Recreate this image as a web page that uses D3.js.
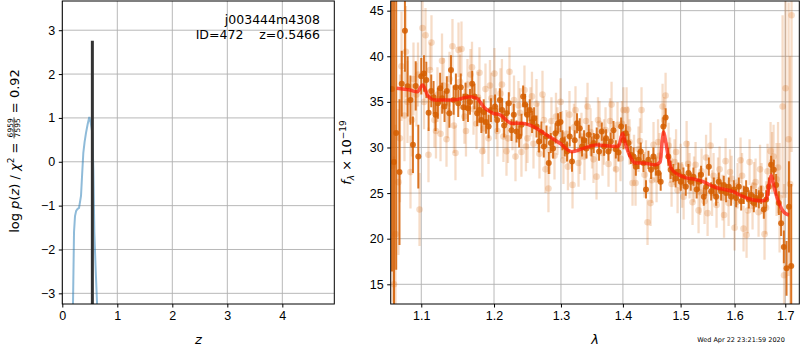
<!DOCTYPE html>
<html>
<head>
<meta charset="utf-8">
<script src="https://cdn.jsdelivr.net/npm/d3@7"></script>
<style>
  body { margin: 0; background: #fff; }
  svg { font-family: "DejaVu Sans", sans-serif; }
  .tick text { font-size: 12.5px; fill: #000; }
  .tick line { stroke: #000; }
</style>
</head>
<body>
<script>
// ---- left panel: log p(z)
const zGrid = [0.17, 0.195, 0.213, 0.231, 0.252, 0.273, 0.304, 0.34, 0.36, 0.382, 0.405, 0.431, 0.46, 0.491, 0.515, 0.545, 0.565, 0.582, 0.605, 0.631, 0.66];
const logPz = [-5.0, -3.2, -1.6, -1.24, -1.12, -1.08, -1.05, -0.78, -0.3, 0.2, 0.45, 0.66, 0.85, 1.02, 0.9, 0.67, -0.2, -1.6, -2.4, -3.2, -5.0];
const zBest = 0.5466;
const zBestTop = 2.76;
const zTicks = [0, 1, 2, 3, 4];
const logTicks = [-3, -2, -1, 0, 1, 2, 3];

// ---- right panel: spectrum
const modelWave = [1.0681, 1.0852, 1.0948, 1.1018, 1.1092, 1.1182, 1.1429, 1.1660, 1.1753, 1.1871, 1.1989, 1.2086, 1.2256, 1.2403, 1.2577, 1.2780, 1.2984, 1.3167, 1.3351, 1.3567, 1.3896, 1.3929, 1.3996, 1.4039, 1.4123, 1.4208, 1.4345, 1.4547, 1.4639, 1.4669, 1.4699, 1.4739, 1.4787, 1.4845, 1.4965, 1.5084, 1.5229, 1.5412, 1.5598, 1.5975, 1.6167, 1.6362, 1.6558, 1.6626, 1.6672, 1.6718, 1.6772, 1.6873, 1.6974, 1.7075];
const modelFlux = [36.5, 36.3, 36.1, 36.85, 35.6, 35.2, 35.2, 35.57, 35.4, 34.3, 33.75, 33.57, 32.65, 32.65, 32.28, 31.37, 30.46, 29.54, 29.9, 30.27, 30.1, 30.2, 31.55, 30.5, 29.0, 28.3, 28.3, 28.1, 28.4, 30.4, 31.7, 30.5, 28.7, 27.6, 27.0, 26.7, 26.55, 26.25, 25.7, 25.15, 24.6, 24.24, 24.15, 24.4, 25.9, 26.95, 25.7, 23.9, 22.9, 22.6];

const darkWave = [1.0621, 1.0647, 1.0675, 1.0717, 1.0746, 1.0787, 1.0822, 1.0858, 1.0891, 1.0927, 1.0961, 1.1000, 1.1035, 1.1066, 1.1097, 1.1132, 1.1163, 1.1189, 1.1221, 1.1251, 1.1278, 1.1310, 1.1341, 1.1376, 1.1398, 1.1434, 1.1465, 1.1497, 1.1532, 1.1569, 1.1599, 1.1632, 1.1660, 1.1691, 1.1723, 1.1760, 1.1792, 1.1820, 1.1853, 1.1886, 1.1923, 1.1956, 1.2014, 1.2045, 1.2084, 1.2117, 1.2146, 1.2181, 1.2214, 1.2254, 1.2287, 1.2327, 1.2366, 1.2401, 1.2425, 1.2455, 1.2485, 1.2524, 1.2559, 1.2589, 1.2625, 1.2664, 1.2700, 1.2736, 1.2777, 1.2812, 1.2843, 1.2878, 1.2915, 1.2955, 1.2993, 1.3023, 1.3059, 1.3095, 1.3137, 1.3173, 1.3216, 1.3252, 1.3295, 1.3332, 1.3364, 1.3402, 1.3439, 1.3483, 1.3520, 1.3568, 1.3606, 1.3650, 1.3688, 1.3721, 1.3760, 1.3798, 1.3843, 1.3882, 1.3926, 1.3970, 1.4010, 1.4049, 1.4094, 1.4133, 1.4179, 1.4218, 1.4264, 1.4302, 1.4348, 1.4392, 1.4434, 1.4479, 1.4520, 1.4560, 1.4607, 1.4647, 1.4694, 1.4734, 1.4781, 1.4822, 1.4870, 1.4911, 1.4959, 1.5003, 1.5051, 1.5093, 1.5141, 1.5183, 1.5232, 1.5291, 1.5330, 1.5372, 1.5422, 1.5465, 1.5515, 1.5558, 1.5608, 1.5651, 1.5701, 1.5745, 1.5795, 1.5839, 1.5890, 1.5934, 1.5986, 1.6030, 1.6082, 1.6127, 1.6178, 1.6223, 1.6275, 1.6321, 1.6373, 1.6418, 1.6471, 1.6517, 1.6570, 1.6616, 1.6669, 1.6715, 1.6769, 1.6815, 1.6870, 1.6916, 1.6971, 1.7026, 1.7075, 1.7122];
const darkFlux = [36.4, 28.4, 31.6, 27.3, 37.0, 42.8, 36.7, 35.2, 30.3, 36.75, 29.0, 37.8, 38.1, 37.4, 33.8, 36.2, 35.5, 33.6, 34.85, 36.5, 35.4, 34.5, 36.2, 33.75, 38.5, 35.2, 36.6, 34.85, 36.6, 34.4, 35.6, 34.3, 35.0, 37.0, 35.6, 33.75, 34.1, 33.0, 33.9, 32.8, 32.3, 34.1, 34.5, 33.0, 35.2, 34.1, 32.4, 33.75, 34.85, 31.9, 33.6, 31.75, 31.2, 32.5, 35.6, 34.7, 33.6, 34.1, 32.8, 33.2, 32.3, 30.65, 31.65, 30.1, 31.2, 28.3, 30.5, 29.9, 31.55, 32.65, 32.8, 30.8, 30.1, 29.55, 31.2, 28.45, 30.8, 32.65, 32.1, 30.1, 30.8, 29.9, 31.4, 30.1, 30.5, 31.2, 29.55, 31.75, 30.1, 31.0, 29.55, 30.65, 31.9, 29.8, 29.45, 32.3, 30.8, 31.55, 30.5, 29.2, 29.0, 27.9, 28.65, 29.55, 28.3, 25.4, 28.65, 27.55, 29.0, 27.9, 27.2, 26.25, 32.3, 33.3, 29.0, 27.55, 27.2, 26.6, 27.35, 26.25, 26.8, 25.7, 27.2, 26.25, 26.8, 25.4, 26.25, 27.0, 24.6, 25.7, 27.9, 25.2, 25.7, 24.6, 26.25, 25.2, 25.9, 25.0, 25.7, 24.6, 25.4, 24.45, 25.7, 24.1, 24.8, 25.4, 24.3, 24.8, 23.9, 24.45, 24.3, 24.8, 23.2, 24.3, 25.7, 28.1, 27.55, 25.9, 23.9, 21.7, 19.1, 16.75, 23.5, 17.0];
const darkErr = [20, 20, 15, 8, 3.6, 4.5, 3.3, 2.7, 3.1, 2.7, 3.5, 2.0, 2.0, 2.0, 2.0, 1.8, 1.8, 1.8, 1.7, 1.7, 1.7, 1.7, 1.6, 1.6, 1.6, 1.6, 1.5, 1.5, 1.5, 1.5, 1.5, 1.5, 1.4, 1.4, 1.4, 1.4, 1.4, 1.4, 1.4, 1.3, 1.3, 1.3, 1.3, 1.3, 1.3, 1.3, 1.3, 1.3, 1.2, 1.2, 1.2, 1.2, 1.2, 1.2, 1.2, 1.2, 1.2, 1.2, 1.2, 1.2, 1.2, 1.2, 1.2, 1.2, 1.2, 1.2, 1.1, 1.1, 1.1, 1.1, 1.1, 1.1, 1.1, 1.1, 1.1, 1.1, 1.1, 1.1, 1.1, 1.1, 1.1, 1.1, 1.1, 1.1, 1.1, 1.0, 1.0, 1.0, 1.0, 1.0, 1.0, 1.0, 1.0, 1.0, 1.0, 1.0, 1.0, 1.0, 1.0, 1.0, 1.0, 1.0, 1.0, 1.0, 1.0, 1.0, 1.0, 1.0, 1.0, 1.0, 1.0, 1.0, 1.0, 1.0, 1.0, 1.0, 1.0, 1.0, 1.0, 1.0, 1.0, 1.0, 1.0, 1.0, 1.0, 1.0, 1.0, 1.0, 1.0, 1.0, 1.0, 1.0, 1.0, 1.0, 1.0, 1.0, 1.0, 1.0, 1.0, 1.0, 1.0, 1.0, 1.0, 1.0, 1.0, 1.0, 1.0, 1.0, 1.0, 1.0, 1.0, 1.0, 1.0, 1.0, 1.0, 1.0, 1.1, 1.2, 1.3, 1.4, 1.8, 3.0, 5.0, 9.0, 9.5, 8.0];

const lightWave = [1.0628, 1.0666, 1.0704, 1.0743, 1.0781, 1.0820, 1.0859, 1.0898, 1.0937, 1.0977, 1.1016, 1.1056, 1.1095, 1.1135, 1.1175, 1.1215, 1.1256, 1.1296, 1.1337, 1.1378, 1.1418, 1.1459, 1.1501, 1.1542, 1.1583, 1.1625, 1.1667, 1.1709, 1.1751, 1.1793, 1.1835, 1.1878, 1.1921, 1.1963, 1.2006, 1.2049, 1.2093, 1.2136, 1.2180, 1.2224, 1.2268, 1.2312, 1.2356, 1.2400, 1.2445, 1.2490, 1.2535, 1.2580, 1.2625, 1.2670, 1.2716, 1.2762, 1.2807, 1.2853, 1.2900, 1.2946, 1.2993, 1.3039, 1.3086, 1.3133, 1.3181, 1.3228, 1.3276, 1.3323, 1.3371, 1.3420, 1.3468, 1.3516, 1.3565, 1.3614, 1.3663, 1.3712, 1.3761, 1.3811, 1.3860, 1.3910, 1.3960, 1.4010, 1.4061, 1.4111, 1.4162, 1.4213, 1.4264, 1.4315, 1.4367, 1.4418, 1.4470, 1.4522, 1.4575, 1.4627, 1.4680, 1.4733, 1.4786, 1.4839, 1.4892, 1.4946, 1.5000, 1.5054, 1.5108, 1.5162, 1.5216, 1.5271, 1.5326, 1.5381, 1.5436, 1.5492, 1.5547, 1.5603, 1.5659, 1.5716, 1.5772, 1.5829, 1.5886, 1.5943, 1.6000, 1.6058, 1.6115, 1.6173, 1.6231, 1.6290, 1.6348, 1.6407, 1.6466, 1.6525, 1.6584, 1.6644, 1.6704, 1.6764, 1.6824, 1.6885, 1.6946, 1.7007, 1.7068, 1.7129];
const lightFlux = [28.0, 20.5, 26.2, 38.9, 33.5, 35.0, 27.3, 37.5, 35.8, 23.2, 43.1, 42.3, 29.2, 41.5, 33.0, 35.8, 31.5, 36.8, 30.9, 37.5, 41.1, 29.4, 40.7, 40.8, 33.4, 36.9, 38.0, 34.2, 32.6, 38.2, 29.6, 36.4, 31.0, 35.4, 38.1, 31.8, 35.9, 31.2, 29.6, 38.3, 32.4, 29.0, 34.6, 29.5, 36.3, 31.0, 33.9, 30.4, 34.8, 29.3, 35.8, 27.6, 25.5, 32.9, 29.1, 31.8, 35.0, 28.6, 31.5, 33.6, 25.9, 34.1, 28.3, 31.2, 29.0, 34.5, 31.7, 28.7, 26.8, 32.6, 29.4, 31.9, 28.2, 34.7, 29.9, 32.5, 28.8, 34.1, 34.1, 30.6, 26.1, 26.1, 29.8, 34.1, 27.0, 21.8, 23.9, 30.3, 26.5, 29.1, 34.5, 35.7, 30.2, 26.0, 28.4, 25.3, 27.9, 24.6, 30.4, 26.9, 24.0, 28.1, 23.1, 27.4, 24.1, 22.8, 30.2, 26.9, 23.7, 27.6, 24.5, 28.5, 23.9, 26.6, 21.2, 25.8, 28.6, 21.1, 20.4, 28.4, 23.6, 26.2, 22.9, 25.5, 20.5, 27.4, 29.6, 29.0, 26.5, 24.5, 34.5, 36.5, 30.9, 44.5];
const lightErr = [15, 12, 8, 6, 5, 4.5, 4, 4, 3.5, 4, 3, 3, 3, 3, 3, 3, 3, 3, 3, 3, 3, 3, 3, 3, 3, 2.8, 2.8, 2.8, 2.8, 2.8, 2.8, 2.8, 2.8, 2.8, 2.8, 2.8, 2.8, 2.8, 2.7, 2.7, 2.7, 2.7, 2.7, 2.7, 2.7, 2.7, 2.7, 2.7, 2.7, 2.7, 2.6, 2.6, 2.6, 2.6, 2.6, 2.6, 2.6, 2.6, 2.6, 2.6, 2.6, 2.6, 2.6, 2.6, 2.6, 2.6, 2.6, 2.6, 2.5, 2.5, 2.5, 2.5, 2.5, 2.5, 2.5, 2.5, 2.5, 2.5, 2.5, 2.5, 2.5, 2.5, 2.5, 2.5, 2.5, 2.5, 2.5, 2.5, 2.5, 2.5, 2.5, 2.5, 2.5, 2.5, 2.5, 2.5, 2.5, 2.5, 2.5, 2.5, 2.5, 2.5, 2.5, 2.5, 2.5, 2.5, 2.5, 2.5, 2.5, 2.5, 2.5, 2.5, 2.5, 2.5, 2.5, 2.5, 2.5, 2.5, 2.5, 2.5, 2.6, 2.6, 2.7, 2.8, 2.8, 3.0, 3.2, 3.5, 4, 6, 10, 12, 15, 15];

// second exposure, same grism
const lightWave2 = [1.0647, 1.0723, 1.0800, 1.0878, 1.0957, 1.1036, 1.1115, 1.1195, 1.1276, 1.1357, 1.1438, 1.1521, 1.1604, 1.1688, 1.1772, 1.1856, 1.1942, 1.2027, 1.2114, 1.2202, 1.2290, 1.2378, 1.2467, 1.2557, 1.2647, 1.2739, 1.2830, 1.2923, 1.3016, 1.3109, 1.3204, 1.3299, 1.3395, 1.3492, 1.3589, 1.3687, 1.3786, 1.3885, 1.3985, 1.4086, 1.4187, 1.4289, 1.4392, 1.4496, 1.4601, 1.4706, 1.4812, 1.4919, 1.5027, 1.5135, 1.5243, 1.5353, 1.5464, 1.5575, 1.5687, 1.5800, 1.5914, 1.6029, 1.6144, 1.6260, 1.6377, 1.6495, 1.6614, 1.6734, 1.6854, 1.6976, 1.7098];
const lightFlux2 = [15.0, 31.0, 40.5, 33.0, 38.0, 35.0, 38.5, 31.8, 39.5, 34.0, 32.4, 37.2, 31.8, 38.8, 35.5, 32.1, 36.8, 33.7, 36.9, 31.0, 35.2, 33.8, 30.1, 35.6, 32.2, 33.0, 29.7, 33.4, 31.4, 27.9, 32.2, 29.7, 32.9, 30.3, 33.0, 30.6, 32.9, 27.6, 32.6, 32.0, 28.9, 30.7, 28.3, 26.4, 30.6, 33.0, 28.6, 29.5, 25.9, 28.2, 26.5, 25.1, 28.9, 25.0, 26.4, 22.6, 27.3, 24.0, 26.9, 23.1, 25.8, 27.6, 23.4, 28.4, 27.8, 16.0, 26.0];
const lightErr2 = [14, 7, 5, 4, 3.5, 3, 3, 3, 3, 3, 3, 3, 2.8, 2.8, 2.8, 2.8, 2.8, 2.8, 2.8, 2.7, 2.7, 2.7, 2.7, 2.7, 2.7, 2.6, 2.6, 2.6, 2.6, 2.6, 2.6, 2.6, 2.6, 2.6, 2.5, 2.5, 2.5, 2.5, 2.5, 2.5, 2.5, 2.5, 2.5, 2.5, 2.5, 2.5, 2.5, 2.5, 2.5, 2.5, 2.5, 2.5, 2.5, 2.5, 2.5, 2.5, 2.5, 2.5, 2.5, 2.5, 2.6, 2.7, 2.9, 3.3, 5, 10, 14];

const waveTicks = [1.1, 1.2, 1.3, 1.4, 1.5, 1.6, 1.7];
const fluxTicks = [15, 20, 25, 30, 35, 40, 45];

const grismColor = '#d55e00';
const stamp = 'Wed Apr 22 23:21:59 2020';

// ---- layout
const width = 800;
const height = 350;
const L = { left: 62.3, right: 334.3, top: 1, bottom: 304 };
const R = { left: 390.7, right: 799.3, top: 1, bottom: 304 };

const svg = d3.select('body').append('svg')
  .attr('width', width)
  .attr('height', height);

const xz = d3.scaleLinear().domain([0, 4.945]).range([L.left, L.right]);
const ylp = d3.scaleLinear().domain([-3.243, 3.666]).range([L.bottom, L.top]);
const xw = d3.scaleLog().domain([1.0605, 1.7288]).range([R.left, R.right]);
const yf = d3.scaleLinear().domain([12.84, 46.06]).range([R.bottom, R.top]);

const defs = svg.append('defs');
[['clipL', L], ['clipR', R]].forEach(([id, b]) => {
  defs.append('clipPath').attr('id', id).append('rect')
    .attr('x', b.left).attr('y', b.top)
    .attr('width', b.right - b.left).attr('height', b.bottom - b.top);
});

function drawGrid(xs, ys, xt, yt, b) {
  const g = svg.append('g').attr('stroke', '#b0b0b0').attr('stroke-width', 0.9);
  g.selectAll('.gx').data(xt).join('line')
    .attr('x1', d => xs(d)).attr('x2', d => xs(d))
    .attr('y1', b.top).attr('y2', b.bottom);
  g.selectAll('.gy').data(yt).join('line')
    .attr('x1', b.left).attr('x2', b.right)
    .attr('y1', d => ys(d)).attr('y2', d => ys(d));
}

function drawAxes(xs, ys, xt, yt, b, xfmt, yfmt) {
  svg.append('g')
    .attr('transform', `translate(0,${b.bottom})`)
    .call(d3.axisBottom(xs).tickValues(xt).tickFormat(xfmt).tickSize(3.5).tickPadding(3.5))
    .call(g => g.select('.domain').remove());
  svg.append('g')
    .attr('transform', `translate(${b.left},0)`)
    .call(d3.axisLeft(ys).tickValues(yt).tickFormat(yfmt).tickSize(3.5).tickPadding(3.5))
    .call(g => g.select('.domain').remove());
  svg.append('rect')
    .attr('x', b.left).attr('y', b.top)
    .attr('width', b.right - b.left).attr('height', b.bottom - b.top)
    .attr('fill', 'none').attr('stroke', '#000').attr('stroke-width', 1);
}

// ---- left panel
drawGrid(xz, ylp, zTicks, logTicks, L);

const pz = zGrid.map((z, i) => ({ z, lp: logPz[i] }));
const left = svg.append('g').attr('clip-path', 'url(#clipL)');
left.append('path')
  .datum(pz)
  .attr('d', d3.line().x(d => xz(d.z)).y(d => ylp(d.lp)))
  .attr('fill', 'none')
  .attr('stroke', '#1f77b4')
  .attr('stroke-opacity', 0.5)
  .attr('stroke-width', 2);
left.append('line')
  .attr('x1', xz(zBest)).attr('x2', xz(zBest))
  .attr('y1', ylp(-3.243)).attr('y2', ylp(zBestTop))
  .attr('stroke', '#333')
  .attr('stroke-width', 3);

drawAxes(xz, ylp, zTicks, logTicks, L, d3.format('d'), d3.format('d'));

svg.append('text')
  .attr('x', 320).attr('y', 24)
  .attr('text-anchor', 'end')
  .attr('font-size', 12.5)
  .text('j003444m4308');
svg.append('text')
  .attr('x', 320).attr('y', 39)
  .attr('text-anchor', 'end')
  .attr('font-size', 12.5)
  .style('white-space', 'pre')
  .text('ID=472    z=0.5466');

svg.append('text')
  .attr('x', (L.left + L.right) / 2).attr('y', 344)
  .attr('text-anchor', 'middle')
  .attr('font-size', 13)
  .attr('font-style', 'italic')
  .text('z');

// y label with a small stacked fraction
const yl = svg.append('g').attr('transform', 'translate(18.5,151) rotate(-90)');
const part1 = yl.append('text').attr('font-size', 13);
part1.append('tspan').text('log ');
part1.append('tspan').attr('font-style', 'italic').text('p');
part1.append('tspan').text('(');
part1.append('tspan').attr('font-style', 'italic').text('z');
part1.append('tspan').text(') / ');
part1.append('tspan').attr('font-style', 'italic').text('χ');
part1.append('tspan').attr('font-size', 9).attr('dy', -5).text('2');
part1.append('tspan').attr('dy', 5).style('white-space', 'pre').text(' = ');
const part3 = yl.append('text').attr('font-size', 13).style('white-space', 'pre').text(' = 0.92');
const num = yl.append('text').attr('font-size', 7.5).attr('text-anchor', 'middle').text('6959');
const den = yl.append('text').attr('font-size', 7.5).attr('text-anchor', 'middle').text('7595');
const w1 = part1.node().getComputedTextLength();
const w3 = part3.node().getComputedTextLength();
const wf = Math.max(num.node().getComputedTextLength(), den.node().getComputedTextLength()) + 2;
const x0 = -(w1 + wf + w3) / 2;
part1.attr('x', x0);
num.attr('x', x0 + w1 + wf / 2).attr('y', -6);
den.attr('x', x0 + w1 + wf / 2).attr('y', 1.5);
yl.append('line')
  .attr('x1', x0 + w1).attr('x2', x0 + w1 + wf)
  .attr('y1', -4.5).attr('y2', -4.5)
  .attr('stroke', '#000').attr('stroke-width', 0.7);
part3.attr('x', x0 + w1 + wf);

// ---- right panel
drawGrid(xw, yf, waveTicks, fluxTicks, R);

const spec = svg.append('g').attr('clip-path', 'url(#clipR)');

function drawPoints(wave, flux, err, opacity, lw, r) {
  const pts = wave.map((w, i) => ({ w, f: flux[i], e: err[i] }));
  const g = spec.append('g');
  g.selectAll('line').data(pts).join('line')
    .attr('x1', d => xw(d.w)).attr('x2', d => xw(d.w))
    .attr('y1', d => yf(d.f - d.e)).attr('y2', d => yf(d.f + d.e))
    .attr('stroke', grismColor)
    .attr('stroke-opacity', opacity)
    .attr('stroke-width', lw);
  g.selectAll('circle').data(pts).join('circle')
    .attr('cx', d => xw(d.w)).attr('cy', d => yf(d.f))
    .attr('r', r)
    .attr('fill', grismColor)
    .attr('fill-opacity', opacity);
}

drawPoints(lightWave, lightFlux, lightErr, 0.22, 2.3, 3.3);
drawPoints(lightWave2, lightFlux2, lightErr2, 0.22, 2.3, 3.3);
drawPoints(darkWave, darkFlux, darkErr, 0.85, 2, 3);

spec.append('path')
  .datum(modelWave.map((w, i) => ({ w, f: modelFlux[i] })))
  .attr('d', d3.line().x(d => xw(d.w)).y(d => yf(d.f)).curve(d3.curveMonotoneX))
  .attr('fill', 'none')
  .attr('stroke', '#ff1a0a')
  .attr('stroke-opacity', 0.72)
  .attr('stroke-width', 3.5);

drawAxes(xw, yf, waveTicks, fluxTicks, R, d3.format('.1f'), d3.format('d'));

svg.append('text')
  .attr('x', (R.left + R.right) / 2).attr('y', 344)
  .attr('text-anchor', 'middle')
  .attr('font-size', 13)
  .attr('font-style', 'italic')
  .text('λ');

const fl = svg.append('text')
  .attr('transform', `translate(351,${(R.top + R.bottom) / 2}) rotate(-90)`)
  .attr('text-anchor', 'middle')
  .attr('font-size', 13);
fl.append('tspan').attr('font-style', 'italic').text('f');
fl.append('tspan').attr('font-size', 9).attr('font-style', 'italic').attr('dy', 3).text('λ');
fl.append('tspan').attr('dy', -3).style('white-space', 'pre').text(' × 10');
fl.append('tspan').attr('font-size', 9).attr('dy', -5).text('−19');

svg.append('text')
  .attr('x', 741).attr('y', 341.5)
  .attr('text-anchor', 'middle')
  .attr('font-size', 6.5)
  .text(stamp);
</script>
</body>
</html>
